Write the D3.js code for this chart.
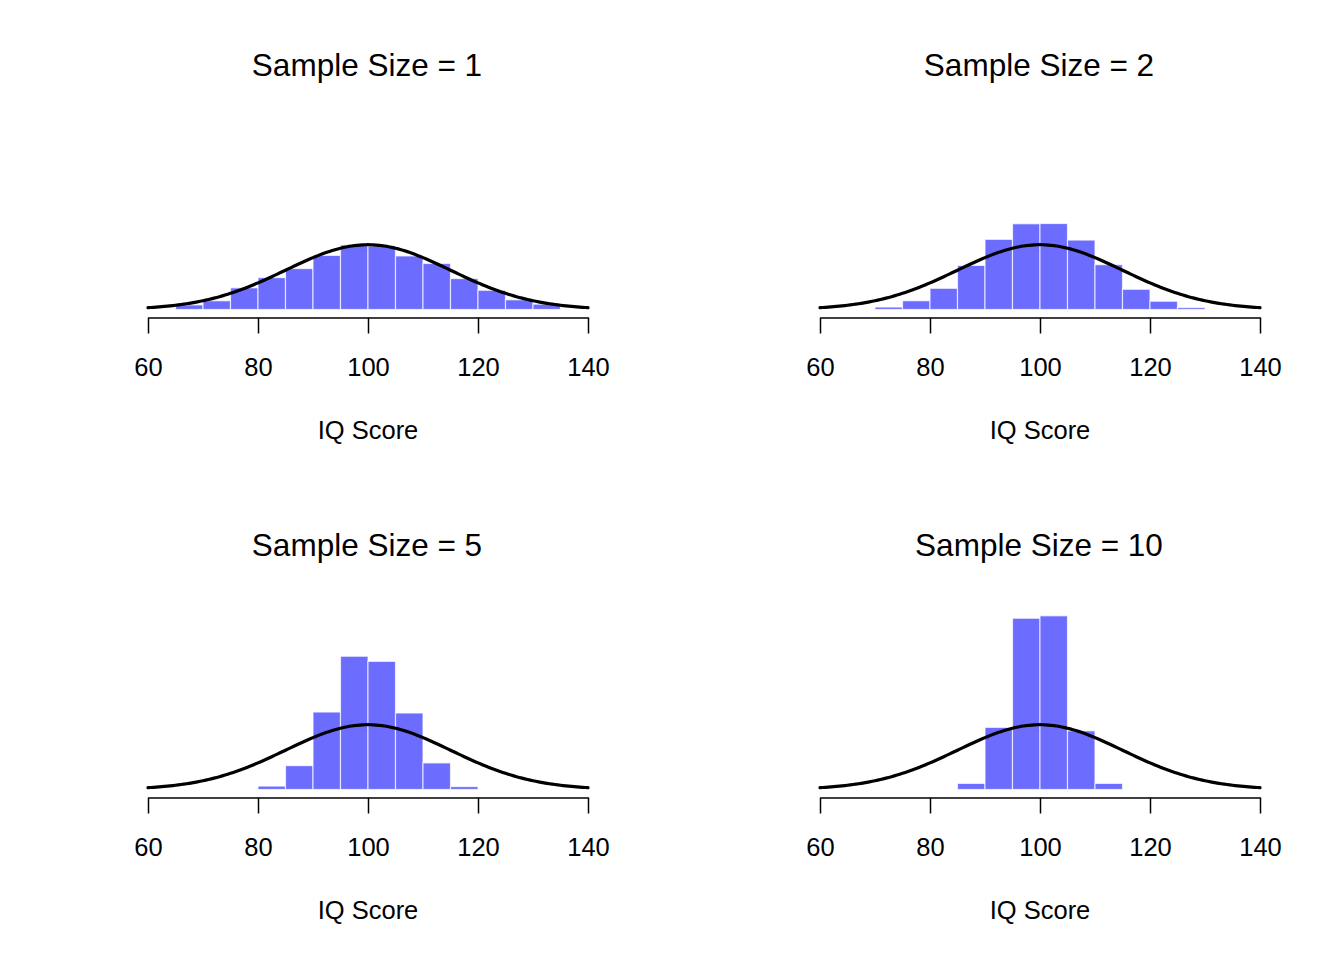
<!DOCTYPE html>
<html>
<head>
<meta charset="utf-8">
<script src="https://cdn.jsdelivr.net/npm/d3@7"></script>
<style>
  html, body { margin: 0; padding: 0; background: #fff; }
  svg { display: block; }
  text { font-family: "Liberation Sans", Arial, Helvetica, sans-serif; fill: #000; }
</style>
</head>
<body>
<svg id="chart" width="1344" height="960"></svg>
<script>
// ---- data (histogram densities, bin width 5) ----
const titles = ["Sample Size = 1", "Sample Size = 2", "Sample Size = 5", "Sample Size = 10"];
const xTicks = [60, 80, 100, 120, 140];
const xLabel = "IQ Score";
const binWidth = 5;

const bins1 = [65, 70, 75, 80, 85, 90, 95, 100, 105, 110, 115, 120, 125, 130];
const dens1 = [0.0019, 0.0036, 0.0089, 0.0131, 0.0168, 0.0222, 0.0265, 0.0261, 0.0220, 0.0189, 0.0127, 0.0079, 0.0040, 0.0022];

const bins2 = [70, 75, 80, 85, 90, 95, 100, 105, 110, 115, 120, 125];
const dens2 = [0.0010, 0.0036, 0.0087, 0.0181, 0.0288, 0.0352, 0.0353, 0.0285, 0.0184, 0.0083, 0.0034, 0.0008];

const bins5 = [80, 85, 90, 95, 100, 105, 110, 115];
const dens5 = [0.0014, 0.0098, 0.0318, 0.0547, 0.0526, 0.0314, 0.0109, 0.0012];

const bins10 = [85, 90, 95, 100, 105, 110];
const dens10 = [0.0025, 0.0255, 0.0703, 0.0713, 0.0241, 0.0025];

const popMean = 100;
const popSD = 15;

const panels = [
  { title: titles[0], bins: bins1, dens: dens1 },
  { title: titles[1], bins: bins2, dens: dens2 },
  { title: titles[2], bins: bins5, dens: dens5 },
  { title: titles[3], bins: bins10, dens: dens10 }
];

// ---- drawing ----
const svg = d3.select("#chart");
const W = 1344, H = 960;
const cellW = W / 2, cellH = H / 2;

const dnorm = (x) => Math.exp(-0.5 * Math.pow((x - popMean) / popSD, 2)) / (popSD * Math.sqrt(2 * Math.PI));

panels.forEach((p, i) => {
  const col = i % 2, row = Math.floor(i / 2);
  const g = svg.append("g").attr("transform", `translate(${col * cellW},${row * cellH})`);

  const x = d3.scaleLinear().domain([60, 140]).range([148, 588]);
  const y = d3.scaleLinear().domain([0, 0.08]).range([309.5, 309.5 - 0.08 * 2436]);

  // bars
  g.selectAll("rect.bar")
    .data(p.bins.map((b, k) => ({ x0: b, x1: b + binWidth, d: p.dens[k] })))
    .join("rect")
    .attr("class", "bar")
    .attr("x", d => x(d.x0))
    .attr("width", d => x(d.x1) - x(d.x0))
    .attr("y", d => y(d.d))
    .attr("height", d => y(0) - y(d.d))
    .attr("fill", "#6c6cff")
    .attr("stroke", "rgba(255,255,255,0.7)")
    .attr("stroke-width", 1.2);

  // normal curve
  const xs = d3.range(60, 140.001, 0.5);
  const line = d3.line().x(v => x(v)).y(v => y(dnorm(v))).curve(d3.curveLinear);
  g.append("path")
    .datum(xs)
    .attr("d", line)
    .attr("fill", "none")
    .attr("stroke", "#000")
    .attr("stroke-width", 3.2)
    .attr("stroke-linejoin", "round")
    .attr("stroke-linecap", "round");

  // x axis
  const axis = d3.axisBottom(x).tickValues(xTicks).tickSize(16).tickSizeOuter(0).tickPadding(24);
  const ag = g.append("g").attr("transform", "translate(0,317.5)").call(axis);
  ag.select(".domain").attr("stroke", "#000").attr("stroke-width", 1.5);
  ag.selectAll(".tick line").attr("stroke", "#000").attr("stroke-width", 1.5);
  ag.selectAll(".tick text")
    .attr("font-size", "25.5px")
    .attr("font-family", '"Liberation Sans", Arial, Helvetica, sans-serif')
    .attr("fill", "#000")
    .attr("dy", null)
    .attr("y", 58.5);

  // x label
  g.append("text")
    .attr("x", 368)
    .attr("y", 438.5)
    .attr("text-anchor", "middle")
    .attr("font-size", "25.5px")
    .text(xLabel);

  // title
  g.append("text")
    .attr("x", 367)
    .attr("y", 76)
    .attr("text-anchor", "middle")
    .attr("font-size", "31.5px")
    .text(p.title);
});
</script>
</body>
</html>
